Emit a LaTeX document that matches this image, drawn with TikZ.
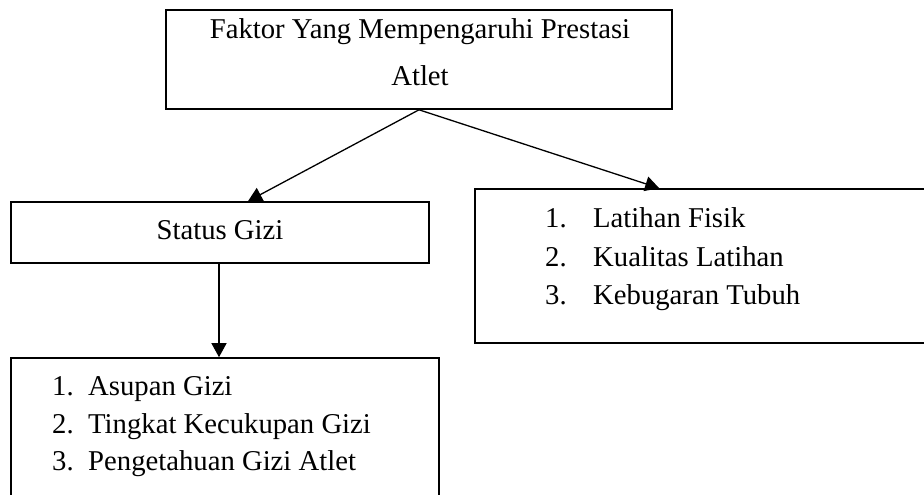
\documentclass[tikz,border=0pt]{standalone}
\usepackage{fontspec}
\setmainfont{Liberation Serif}
\usetikzlibrary{arrows.meta,calc}
\begin{document}
\begin{tikzpicture}[x=1pt,y=1pt,
 box/.style={draw,line width=1.6pt,inner sep=0pt},
 txt/.style={inner sep=0pt,anchor=base west,font=\fontsize{28.7}{34}\selectfont},
 ctxt/.style={inner sep=0pt,anchor=base,font=\fontsize{28.7}{34}\selectfont},
 arr/.style={line width=1.3pt,-{Triangle[length=14pt,width=15pt]}}]
\useasboundingbox (0,0) rectangle (924,-495);
\clip (0,0) rectangle (924,-495);
% boxes
\node[box,minimum width=506pt,minimum height=99pt] (top) at (419,-59.5) {};
\node[box,minimum width=418pt,minimum height=61pt] (sg) at (220,-232.5) {};
\node[box,minimum width=485pt,minimum height=154pt] (rb) at (717.5,-266) {};
\node[box,minimum width=428pt,minimum height=172pt] (bb) at (225,-444) {};
% texts
\node[ctxt] (t1) at (420,-39) {Faktor Yang Mempengaruhi Prestasi};
\node[ctxt] (t2) at (420,-85) {Atlet};
\node[ctxt] (s1) at (220,-239) {Status Gizi};
\node[txt] (rn1) at (545,-227) {1.};
\node[txt] (rt1) at (593,-227) {Latihan Fisik};
\node[txt] (rn2) at (545,-266) {2.};
\node[txt] (rt2) at (593,-266) {Kualitas Latihan};
\node[txt] (rn3) at (545,-304) {3.};
\node[txt] (rt3) at (593,-304) {Kebugaran Tubuh};
\node[txt] (bn1) at (52,-395) {1.};
\node[txt] (bt1) at (88,-395) {Asupan Gizi};
\node[txt] (bn2) at (52,-433) {2.};
\node[txt] (bt2) at (88,-433) {Tingkat Kecukupan Gizi};
\node[txt] (bn3) at (52,-470) {3.};
\node[txt] (bt3) at (88,-470) {Pengetahuan Gizi Atlet};
% arrows
\coordinate (la) at ($(sg.north)+(28,0)$);
\coordinate (ra) at ($(rb.north west)+(185,0)$);
\coordinate (va) at ($(sg.south)+(-1,0)$);
\draw[arr] (top.south) -- (la);
\draw[arr] (top.south) -- (ra);
\draw[arr] (va) -- (va |- bb.north);
\end{tikzpicture}
\end{document}
